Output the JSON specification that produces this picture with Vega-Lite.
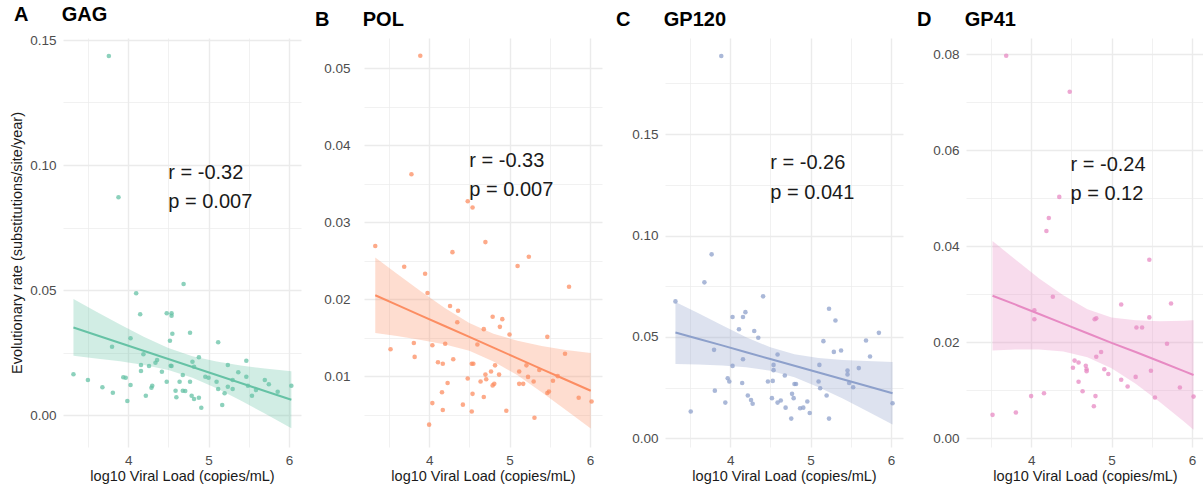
{
  "$schema": "https://vega.github.io/schema/vega-lite/v6.json",
  "padding": {"left": 9, "top": 5, "right": 0, "bottom": 2},
  "background": "white",
  "datasets": {
    "pts": [
      {"g":"A","vl":3.76,"rate":0.1436},{"g":"A","vl":3.88,"rate":0.0871},{"g":"A","vl":3.32,"rate":0.0163},{"g":"A","vl":3.50,"rate":0.014},{"g":"A","vl":3.68,"rate":0.0111},{"g":"A","vl":3.80,"rate":0.0273},{"g":"A","vl":3.81,"rate":0.0089},{"g":"A","vl":3.94,"rate":0.0151},{"g":"A","vl":3.97,"rate":0.0149},{"g":"A","vl":3.99,"rate":0.0056},{"g":"A","vl":4.03,"rate":0.012},{"g":"A","vl":4.03,"rate":0.0307},{"g":"A","vl":4.10,"rate":0.0487},{"g":"A","vl":4.15,"rate":0.0403},{"g":"A","vl":4.16,"rate":0.02},{"g":"A","vl":4.16,"rate":0.0176},{"g":"A","vl":4.19,"rate":0.0243},{"g":"A","vl":4.22,"rate":0.0077},{"g":"A","vl":4.26,"rate":0.0196},{"g":"A","vl":4.29,"rate":0.0109},{"g":"A","vl":4.30,"rate":0.0117},{"g":"A","vl":4.34,"rate":0.0209},{"g":"A","vl":4.36,"rate":0.022},{"g":"A","vl":4.42,"rate":0.0173},{"g":"A","vl":4.48,"rate":0.0407},{"g":"A","vl":4.48,"rate":0.0133},{"g":"A","vl":4.52,"rate":0.0297},{"g":"A","vl":4.53,"rate":0.0197},{"g":"A","vl":4.54,"rate":0.0196},{"g":"A","vl":4.54,"rate":0.0407},{"g":"A","vl":4.54,"rate":0.0397},{"g":"A","vl":4.55,"rate":0.0325},{"g":"A","vl":4.59,"rate":0.0097},{"g":"A","vl":4.60,"rate":0.0071},{"g":"A","vl":4.64,"rate":0.0133},{"g":"A","vl":4.68,"rate":0.016},{"g":"A","vl":4.68,"rate":0.0097},{"g":"A","vl":4.69,"rate":0.0524},{"g":"A","vl":4.71,"rate":0.0096},{"g":"A","vl":4.77,"rate":0.0133},{"g":"A","vl":4.77,"rate":0.0329},{"g":"A","vl":4.79,"rate":0.0077},{"g":"A","vl":4.80,"rate":0.0213},{"g":"A","vl":4.82,"rate":0.0064},{"g":"A","vl":4.82,"rate":0.0193},{"g":"A","vl":4.88,"rate":0.0231},{"g":"A","vl":4.88,"rate":0.0069},{"g":"A","vl":4.91,"rate":0.0029},{"g":"A","vl":4.96,"rate":0.0153},{"g":"A","vl":5.00,"rate":0.0149},{"g":"A","vl":5.10,"rate":0.0133},{"g":"A","vl":5.12,"rate":0.0291},{"g":"A","vl":5.12,"rate":0.0104},{"g":"A","vl":5.17,"rate":0.004},{"g":"A","vl":5.20,"rate":0.0087},{"g":"A","vl":5.24,"rate":0.0113},{"g":"A","vl":5.24,"rate":0.02},{"g":"A","vl":5.30,"rate":0.0104},{"g":"A","vl":5.30,"rate":0.014},{"g":"A","vl":5.37,"rate":0.0171},{"g":"A","vl":5.47,"rate":0.0217},{"g":"A","vl":5.47,"rate":0.0153},{"g":"A","vl":5.49,"rate":0.0117},{"g":"A","vl":5.54,"rate":0.0077},{"g":"A","vl":5.59,"rate":0.01},{"g":"A","vl":5.70,"rate":0.014},{"g":"A","vl":5.75,"rate":0.0123},{"g":"A","vl":5.86,"rate":0.0093},{"g":"A","vl":6.03,"rate":0.0117},
      {"g":"B","vl":3.89,"rate":0.0516},{"g":"B","vl":3.78,"rate":0.0362},{"g":"B","vl":3.33,"rate":0.0269},{"g":"B","vl":3.69,"rate":0.0242},{"g":"B","vl":3.95,"rate":0.0233},{"g":"B","vl":3.98,"rate":0.0208},{"g":"B","vl":3.52,"rate":0.0135},{"g":"B","vl":3.81,"rate":0.0143},{"g":"B","vl":3.82,"rate":0.0125},{"g":"B","vl":4.04,"rate":0.014},{"g":"B","vl":4.04,"rate":0.0065},{"g":"B","vl":4.00,"rate":0.0037},{"g":"B","vl":4.11,"rate":0.0118},{"g":"B","vl":4.17,"rate":0.0116},{"g":"B","vl":4.16,"rate":0.0079},{"g":"B","vl":4.17,"rate":0.0056},{"g":"B","vl":4.20,"rate":0.0142},{"g":"B","vl":4.23,"rate":0.0091},{"g":"B","vl":4.26,"rate":0.0191},{"g":"B","vl":4.29,"rate":0.0261},{"g":"B","vl":4.30,"rate":0.0122},{"g":"B","vl":4.35,"rate":0.017},{"g":"B","vl":4.36,"rate":0.0185},{"g":"B","vl":4.42,"rate":0.0063},{"g":"B","vl":4.48,"rate":0.0327},{"g":"B","vl":4.48,"rate":0.0097},{"g":"B","vl":4.53,"rate":0.0116},{"g":"B","vl":4.55,"rate":0.0116},{"g":"B","vl":4.54,"rate":0.0319},{"g":"B","vl":4.53,"rate":0.0054},{"g":"B","vl":4.54,"rate":0.0077},{"g":"B","vl":4.60,"rate":0.0141},{"g":"B","vl":4.64,"rate":0.0093},{"g":"B","vl":4.68,"rate":0.0161},{"g":"B","vl":4.68,"rate":0.0073},{"g":"B","vl":4.70,"rate":0.0102},{"g":"B","vl":4.70,"rate":0.0274},{"g":"B","vl":4.71,"rate":0.0096},{"g":"B","vl":4.77,"rate":0.0106},{"g":"B","vl":4.79,"rate":0.0177},{"g":"B","vl":4.79,"rate":0.0088},{"g":"B","vl":4.81,"rate":0.009},{"g":"B","vl":4.82,"rate":0.0114},{"g":"B","vl":4.87,"rate":0.0102},{"g":"B","vl":4.88,"rate":0.0164},{"g":"B","vl":4.91,"rate":0.0174},{"g":"B","vl":4.96,"rate":0.0055},{"g":"B","vl":5.00,"rate":0.0154},{"g":"B","vl":5.10,"rate":0.0243},{"g":"B","vl":5.12,"rate":0.0106},{"g":"B","vl":5.12,"rate":0.009},{"g":"B","vl":5.17,"rate":0.009},{"g":"B","vl":5.21,"rate":0.0114},{"g":"B","vl":5.24,"rate":0.0255},{"g":"B","vl":5.23,"rate":0.0099},{"g":"B","vl":5.30,"rate":0.0093},{"g":"B","vl":5.31,"rate":0.0046},{"g":"B","vl":5.37,"rate":0.0108},{"g":"B","vl":5.47,"rate":0.0151},{"g":"B","vl":5.47,"rate":0.0078},{"g":"B","vl":5.49,"rate":0.008},{"g":"B","vl":5.54,"rate":0.0094},{"g":"B","vl":5.60,"rate":0.01},{"g":"B","vl":5.69,"rate":0.0129},{"g":"B","vl":5.74,"rate":0.0216},{"g":"B","vl":5.86,"rate":0.0072},{"g":"B","vl":6.02,"rate":0.0067},
      {"g":"C","vl":3.89,"rate":0.1885},{"g":"C","vl":3.77,"rate":0.0907},{"g":"C","vl":3.68,"rate":0.0769},{"g":"C","vl":3.32,"rate":0.0675},{"g":"C","vl":3.51,"rate":0.0132},{"g":"C","vl":3.80,"rate":0.0436},{"g":"C","vl":3.81,"rate":0.0235},{"g":"C","vl":3.94,"rate":0.0176},{"g":"C","vl":3.97,"rate":0.0296},{"g":"C","vl":3.99,"rate":0.028},{"g":"C","vl":4.03,"rate":0.0598},{"g":"C","vl":4.03,"rate":0.0357},{"g":"C","vl":4.11,"rate":0.0538},{"g":"C","vl":4.16,"rate":0.0598},{"g":"C","vl":4.16,"rate":0.039},{"g":"C","vl":4.15,"rate":0.0273},{"g":"C","vl":4.19,"rate":0.0622},{"g":"C","vl":4.22,"rate":0.0211},{"g":"C","vl":4.26,"rate":0.0189},{"g":"C","vl":4.28,"rate":0.017},{"g":"C","vl":4.30,"rate":0.0529},{"g":"C","vl":4.35,"rate":0.0496},{"g":"C","vl":4.41,"rate":0.07},{"g":"C","vl":4.47,"rate":0.028},{"g":"C","vl":4.52,"rate":0.0198},{"g":"C","vl":4.53,"rate":0.0283},{"g":"C","vl":4.54,"rate":0.0362},{"g":"C","vl":4.54,"rate":0.0336},{"g":"C","vl":4.59,"rate":0.0413},{"g":"C","vl":4.59,"rate":0.0176},{"g":"C","vl":4.63,"rate":0.0186},{"g":"C","vl":4.68,"rate":0.031},{"g":"C","vl":4.69,"rate":0.0151},{"g":"C","vl":4.76,"rate":0.0097},{"g":"C","vl":4.77,"rate":0.0219},{"g":"C","vl":4.79,"rate":0.0198},{"g":"C","vl":4.80,"rate":0.0268},{"g":"C","vl":4.82,"rate":0.0268},{"g":"C","vl":4.87,"rate":0.0148},{"g":"C","vl":4.91,"rate":0.0151},{"g":"C","vl":4.96,"rate":0.0181},{"g":"C","vl":4.99,"rate":0.0125},{"g":"C","vl":5.10,"rate":0.028},{"g":"C","vl":5.11,"rate":0.0362},{"g":"C","vl":5.12,"rate":0.0247},{"g":"C","vl":5.16,"rate":0.0479},{"g":"C","vl":5.20,"rate":0.0211},{"g":"C","vl":5.23,"rate":0.0639},{"g":"C","vl":5.23,"rate":0.0097},{"g":"C","vl":5.29,"rate":0.0426},{"g":"C","vl":5.31,"rate":0.0581},{"g":"C","vl":5.38,"rate":0.0433},{"g":"C","vl":5.46,"rate":0.0334},{"g":"C","vl":5.46,"rate":0.0315},{"g":"C","vl":5.48,"rate":0.0273},{"g":"C","vl":5.53,"rate":0.0252},{"g":"C","vl":5.60,"rate":0.0346},{"g":"C","vl":5.69,"rate":0.0482},{"g":"C","vl":5.74,"rate":0.0403},{"g":"C","vl":5.85,"rate":0.052},{"g":"C","vl":6.02,"rate":0.0173},
      {"g":"D","vl":3.69,"rate":0.0797},{"g":"D","vl":4.48,"rate":0.0722},{"g":"D","vl":4.35,"rate":0.0503},{"g":"D","vl":4.22,"rate":0.0459},{"g":"D","vl":4.19,"rate":0.0432},{"g":"D","vl":4.27,"rate":0.0295},{"g":"D","vl":4.04,"rate":0.0267},{"g":"D","vl":4.04,"rate":0.0248},{"g":"D","vl":3.52,"rate":0.0049},{"g":"D","vl":3.81,"rate":0.0054},{"g":"D","vl":4.00,"rate":0.0088},{"g":"D","vl":4.16,"rate":0.0094},{"g":"D","vl":4.54,"rate":0.0162},{"g":"D","vl":4.52,"rate":0.0147},{"g":"D","vl":4.59,"rate":0.0158},{"g":"D","vl":4.59,"rate":0.0118},{"g":"D","vl":4.64,"rate":0.0098},{"g":"D","vl":4.68,"rate":0.0151},{"g":"D","vl":4.69,"rate":0.0144},{"g":"D","vl":4.69,"rate":0.014},{"g":"D","vl":4.78,"rate":0.0067},{"g":"D","vl":4.80,"rate":0.0088},{"g":"D","vl":4.79,"rate":0.0248},{"g":"D","vl":4.81,"rate":0.025},{"g":"D","vl":4.81,"rate":0.017},{"g":"D","vl":4.87,"rate":0.018},{"g":"D","vl":4.91,"rate":0.0144},{"g":"D","vl":4.96,"rate":0.0134},{"g":"D","vl":5.12,"rate":0.0279},{"g":"D","vl":5.12,"rate":0.0122},{"g":"D","vl":5.20,"rate":0.0108},{"g":"D","vl":5.30,"rate":0.0128},{"g":"D","vl":5.31,"rate":0.0231},{"g":"D","vl":5.38,"rate":0.0231},{"g":"D","vl":5.47,"rate":0.0372},{"g":"D","vl":5.47,"rate":0.0252},{"g":"D","vl":5.49,"rate":0.0141},{"g":"D","vl":5.54,"rate":0.0085},{"g":"D","vl":5.69,"rate":0.0197},{"g":"D","vl":5.74,"rate":0.0281},{"g":"D","vl":5.85,"rate":0.0106},{"g":"D","vl":6.02,"rate":0.0087}
    ],
    "fit": [
      {"g":"A","vl":3.32,"rate":0.0350,"lo":0.0237,"hi":0.0464},{"g":"A","vl":3.6,"rate":0.0320,"lo":0.0226,"hi":0.0414},{"g":"A","vl":3.9,"rate":0.0288,"lo":0.0215,"hi":0.0362},{"g":"A","vl":4.2,"rate":0.0256,"lo":0.0200,"hi":0.0312},{"g":"A","vl":4.5,"rate":0.0224,"lo":0.0180,"hi":0.0268},{"g":"A","vl":4.8,"rate":0.0192,"lo":0.0149,"hi":0.0235},{"g":"A","vl":5.1,"rate":0.0160,"lo":0.0107,"hi":0.0214},{"g":"A","vl":5.4,"rate":0.0128,"lo":0.0058,"hi":0.0198},{"g":"A","vl":5.7,"rate":0.0096,"lo":0.0006,"hi":0.0186},{"g":"A","vl":6.03,"rate":0.0061,"lo":-0.0053,"hi":0.0175},
      {"g":"B","vl":3.33,"rate":0.0205,"lo":0.0156,"hi":0.0254},{"g":"B","vl":3.6,"rate":0.01925,"lo":0.0152,"hi":0.0233},{"g":"B","vl":3.9,"rate":0.01786,"lo":0.0147,"hi":0.0210},{"g":"B","vl":4.2,"rate":0.01648,"lo":0.0141,"hi":0.0188},{"g":"B","vl":4.5,"rate":0.01509,"lo":0.0133,"hi":0.0169},{"g":"B","vl":4.8,"rate":0.0137,"lo":0.0119,"hi":0.0155},{"g":"B","vl":5.1,"rate":0.01231,"lo":0.0101,"hi":0.0146},{"g":"B","vl":5.4,"rate":0.01092,"lo":0.0079,"hi":0.0139},{"g":"B","vl":5.7,"rate":0.00953,"lo":0.0056,"hi":0.0134},{"g":"B","vl":6.01,"rate":0.0081,"lo":0.0032,"hi":0.0130},
      {"g":"C","vl":3.32,"rate":0.0522,"lo":0.0366,"hi":0.0672},{"g":"C","vl":3.6,"rate":0.0491,"lo":0.0364,"hi":0.0618},{"g":"C","vl":3.9,"rate":0.0458,"lo":0.0359,"hi":0.0557},{"g":"C","vl":4.2,"rate":0.0424,"lo":0.0350,"hi":0.0498},{"g":"C","vl":4.5,"rate":0.0391,"lo":0.0333,"hi":0.0449},{"g":"C","vl":4.8,"rate":0.0358,"lo":0.0301,"hi":0.0415},{"g":"C","vl":5.1,"rate":0.0324,"lo":0.0252,"hi":0.0396},{"g":"C","vl":5.4,"rate":0.0291,"lo":0.0196,"hi":0.0386},{"g":"C","vl":5.7,"rate":0.0258,"lo":0.0135,"hi":0.0381},{"g":"C","vl":6.02,"rate":0.0222,"lo":0.0068,"hi":0.0376},
      {"g":"D","vl":3.52,"rate":0.0297,"lo":0.0183,"hi":0.0411},{"g":"D","vl":3.8,"rate":0.0279,"lo":0.0185,"hi":0.0373},{"g":"D","vl":4.1,"rate":0.0259,"lo":0.0185,"hi":0.0333},{"g":"D","vl":4.4,"rate":0.0239,"lo":0.0181,"hi":0.0298},{"g":"D","vl":4.7,"rate":0.0219,"lo":0.0169,"hi":0.0269},{"g":"D","vl":5.0,"rate":0.0199,"lo":0.0146,"hi":0.0252},{"g":"D","vl":5.3,"rate":0.018,"lo":0.0114,"hi":0.0246},{"g":"D","vl":5.6,"rate":0.016,"lo":0.0076,"hi":0.0244},{"g":"D","vl":5.9,"rate":0.014,"lo":0.0035,"hi":0.0245},{"g":"D","vl":6.02,"rate":0.0132,"lo":0.0018,"hi":0.0246}
    ],
    "ann": [
      {"g":"A","vl":4.5,"rate":0.0968,"label":"r = -0.32"},{"g":"A","vl":4.5,"rate":0.0852,"label":"p = 0.007"},
      {"g":"B","vl":4.5,"rate":0.0379,"label":"r = -0.33"},{"g":"B","vl":4.5,"rate":0.0342,"label":"p = 0.007"},
      {"g":"C","vl":4.5,"rate":0.1356,"label":"r = -0.26"},{"g":"C","vl":4.5,"rate":0.1208,"label":"p = 0.041"},
      {"g":"D","vl":4.49,"rate":0.0569,"label":"r = -0.24"},{"g":"D","vl":4.49,"rate":0.0508,"label":"p = 0.12"}
    ]
  },
  "hconcat": [
    {
      "width": 238, "height": 409,
      "title": {"text": "A\u00a0\u00a0\u00a0\u00a0\u00a0\u00a0GAG", "dx": -49},
      "layer": [
        {"data": {"name": "pts"}, "transform": [{"filter": "datum.g === 'A'"}],
         "mark": {"type": "circle", "size": 21, "opacity": 0.75, "color": "#66c2a5"},
         "encoding": {
           "x": {"field": "vl", "type": "quantitative", "title": "log10 Viral Load (copies/mL)", "scale": {"domain": [3.19, 6.15], "nice": false, "zero": false},
                 "axis": {"values": [3.5, 4, 4.5, 5, 5.5, 6], "labelExpr": "datum.value % 1 < 0.01 ? format(datum.value, 'd') : ''", "gridWidth": {"condition": {"test": "datum.value % 1 > 0.01", "value": 0.7}, "value": 1.4}}},
           "y": {"field": "rate", "type": "quantitative", "title": "Evolutionary rate (substitutions/site/year)", "scale": {"domain": [-0.0128, 0.1508], "nice": false, "zero": false},
                 "axis": {"values": [0, 0.025, 0.05, 0.075, 0.1, 0.125, 0.15], "labelExpr": "abs(datum.value*20 - round(datum.value*20)) < 0.01 ? format(datum.value, '.2f') : ''", "gridWidth": {"condition": {"test": "abs(datum.value*20 - round(datum.value*20)) > 0.01", "value": 0.7}, "value": 1.4}, "titlePadding": 5}}
         }},
        {"data": {"name": "fit"}, "transform": [{"filter": "datum.g === 'A'"}],
         "mark": {"type": "area", "color": "#66c2a5", "opacity": 0.3},
         "encoding": {"x": {"field": "vl", "type": "quantitative", "title": "log10 Viral Load (copies/mL)"}, "y": {"field": "lo", "type": "quantitative", "title": "Evolutionary rate (substitutions/site/year)"}, "y2": {"field": "hi"}}},
        {"data": {"name": "fit"}, "transform": [{"filter": "datum.g === 'A'"}],
         "mark": {"type": "line", "color": "#66c2a5", "strokeWidth": 2},
         "encoding": {"x": {"field": "vl", "type": "quantitative", "title": "log10 Viral Load (copies/mL)"}, "y": {"field": "rate", "type": "quantitative", "title": "Evolutionary rate (substitutions/site/year)"}}},
        {"data": {"name": "ann"}, "transform": [{"filter": "datum.g === 'A'"}],
         "mark": {"type": "text", "align": "left", "baseline": "middle", "fontSize": 20, "color": "#1a1a1a", "font": "Liberation Sans"},
         "encoding": {"x": {"field": "vl", "type": "quantitative", "title": "log10 Viral Load (copies/mL)"}, "y": {"field": "rate", "type": "quantitative", "title": "Evolutionary rate (substitutions/site/year)"}, "text": {"field": "label"}}}
      ]
    },
    {
      "width": 238, "height": 409,
      "title": {"text": "B\u00a0\u00a0\u00a0\u00a0\u00a0\u00a0POL", "dx": -49},
      "layer": [
        {"data": {"name": "pts"}, "transform": [{"filter": "datum.g === 'B'"}],
         "mark": {"type": "circle", "size": 21, "opacity": 0.75, "color": "#fc8d62"},
         "encoding": {
           "x": {"field": "vl", "type": "quantitative", "title": "log10 Viral Load (copies/mL)", "scale": {"domain": [3.19, 6.15], "nice": false, "zero": false},
                 "axis": {"values": [3.5, 4, 4.5, 5, 5.5, 6], "labelExpr": "datum.value % 1 < 0.01 ? format(datum.value, 'd') : ''", "gridWidth": {"condition": {"test": "datum.value % 1 > 0.01", "value": 0.7}, "value": 1.4}}},
           "y": {"field": "rate", "type": "quantitative", "title": null, "scale": {"domain": [0.0008, 0.0539], "nice": false, "zero": false},
                 "axis": {"values": [0.005, 0.01, 0.015, 0.02, 0.025, 0.03, 0.035, 0.04, 0.045, 0.05], "labelPadding": 14, "labelExpr": "abs(datum.value*100 - round(datum.value*100)) < 0.01 ? format(datum.value, '.2f') : ''", "gridWidth": {"condition": {"test": "abs(datum.value*100 - round(datum.value*100)) > 0.01", "value": 0.7}, "value": 1.4}}}
         }},
        {"data": {"name": "fit"}, "transform": [{"filter": "datum.g === 'B'"}],
         "mark": {"type": "area", "color": "#fc8d62", "opacity": 0.3},
         "encoding": {"x": {"field": "vl", "type": "quantitative", "title": "log10 Viral Load (copies/mL)"}, "y": {"field": "lo", "type": "quantitative", "title": null}, "y2": {"field": "hi"}}},
        {"data": {"name": "fit"}, "transform": [{"filter": "datum.g === 'B'"}],
         "mark": {"type": "line", "color": "#fc8d62", "strokeWidth": 2},
         "encoding": {"x": {"field": "vl", "type": "quantitative", "title": "log10 Viral Load (copies/mL)"}, "y": {"field": "rate", "type": "quantitative", "title": null}}},
        {"data": {"name": "ann"}, "transform": [{"filter": "datum.g === 'B'"}],
         "mark": {"type": "text", "align": "left", "baseline": "middle", "fontSize": 20, "color": "#1a1a1a", "font": "Liberation Sans"},
         "encoding": {"x": {"field": "vl", "type": "quantitative", "title": "log10 Viral Load (copies/mL)"}, "y": {"field": "rate", "type": "quantitative", "title": null}, "text": {"field": "label"}}}
      ]
    },
    {
      "width": 238, "height": 409,
      "title": {"text": "C\u00a0\u00a0\u00a0\u00a0\u00a0\u00a0GP120", "dx": -49},
      "layer": [
        {"data": {"name": "pts"}, "transform": [{"filter": "datum.g === 'C'"}],
         "mark": {"type": "circle", "size": 21, "opacity": 0.75, "color": "#8da0cb"},
         "encoding": {
           "x": {"field": "vl", "type": "quantitative", "title": "log10 Viral Load (copies/mL)", "scale": {"domain": [3.19, 6.15], "nice": false, "zero": false},
                 "axis": {"values": [3.5, 4, 4.5, 5, 5.5, 6], "labelExpr": "datum.value % 1 < 0.01 ? format(datum.value, 'd') : ''", "gridWidth": {"condition": {"test": "datum.value % 1 > 0.01", "value": 0.7}, "value": 1.4}}},
           "y": {"field": "rate", "type": "quantitative", "title": null, "scale": {"domain": [-0.0043, 0.1974], "nice": false, "zero": false},
                 "axis": {"values": [0, 0.025, 0.05, 0.075, 0.1, 0.125, 0.15, 0.175], "labelExpr": "abs(datum.value*20 - round(datum.value*20)) < 0.01 ? format(datum.value, '.2f') : ''", "gridWidth": {"condition": {"test": "abs(datum.value*20 - round(datum.value*20)) > 0.01", "value": 0.7}, "value": 1.4}}}
         }},
        {"data": {"name": "fit"}, "transform": [{"filter": "datum.g === 'C'"}],
         "mark": {"type": "area", "color": "#8da0cb", "opacity": 0.3},
         "encoding": {"x": {"field": "vl", "type": "quantitative", "title": "log10 Viral Load (copies/mL)"}, "y": {"field": "lo", "type": "quantitative", "title": null}, "y2": {"field": "hi"}}},
        {"data": {"name": "fit"}, "transform": [{"filter": "datum.g === 'C'"}],
         "mark": {"type": "line", "color": "#8da0cb", "strokeWidth": 2},
         "encoding": {"x": {"field": "vl", "type": "quantitative", "title": "log10 Viral Load (copies/mL)"}, "y": {"field": "rate", "type": "quantitative", "title": null}}},
        {"data": {"name": "ann"}, "transform": [{"filter": "datum.g === 'C'"}],
         "mark": {"type": "text", "align": "left", "baseline": "middle", "fontSize": 20, "color": "#1a1a1a", "font": "Liberation Sans"},
         "encoding": {"x": {"field": "vl", "type": "quantitative", "title": "log10 Viral Load (copies/mL)"}, "y": {"field": "rate", "type": "quantitative", "title": null}, "text": {"field": "label"}}}
      ]
    },
    {
      "width": 238, "height": 409,
      "title": {"text": "D\u00a0\u00a0\u00a0\u00a0\u00a0\u00a0GP41", "dx": -49},
      "layer": [
        {"data": {"name": "pts"}, "transform": [{"filter": "datum.g === 'D'"}],
         "mark": {"type": "circle", "size": 21, "opacity": 0.75, "color": "#e78ac3"},
         "encoding": {
           "x": {"field": "vl", "type": "quantitative", "title": "log10 Viral Load (copies/mL)", "scale": {"domain": [3.19, 6.15], "nice": false, "zero": false},
                 "axis": {"values": [3.5, 4, 4.5, 5, 5.5, 6], "labelExpr": "datum.value % 1 < 0.01 ? format(datum.value, 'd') : ''", "gridWidth": {"condition": {"test": "datum.value % 1 > 0.01", "value": 0.7}, "value": 1.4}}},
           "y": {"field": "rate", "type": "quantitative", "title": null, "scale": {"domain": [-0.0018, 0.0834], "nice": false, "zero": false},
                 "axis": {"values": [0, 0.01, 0.02, 0.03, 0.04, 0.05, 0.06, 0.07, 0.08], "labelExpr": "abs(datum.value*50 - round(datum.value*50)) < 0.01 ? format(datum.value, '.2f') : ''", "gridWidth": {"condition": {"test": "abs(datum.value*50 - round(datum.value*50)) > 0.01", "value": 0.7}, "value": 1.4}}}
         }},
        {"data": {"name": "fit"}, "transform": [{"filter": "datum.g === 'D'"}],
         "mark": {"type": "area", "color": "#e78ac3", "opacity": 0.3},
         "encoding": {"x": {"field": "vl", "type": "quantitative", "title": "log10 Viral Load (copies/mL)"}, "y": {"field": "lo", "type": "quantitative", "title": null}, "y2": {"field": "hi"}}},
        {"data": {"name": "fit"}, "transform": [{"filter": "datum.g === 'D'"}],
         "mark": {"type": "line", "color": "#e78ac3", "strokeWidth": 2},
         "encoding": {"x": {"field": "vl", "type": "quantitative", "title": "log10 Viral Load (copies/mL)"}, "y": {"field": "rate", "type": "quantitative", "title": null}}},
        {"data": {"name": "ann"}, "transform": [{"filter": "datum.g === 'D'"}],
         "mark": {"type": "text", "align": "left", "baseline": "middle", "fontSize": 20, "color": "#1a1a1a", "font": "Liberation Sans"},
         "encoding": {"x": {"field": "vl", "type": "quantitative", "title": "log10 Viral Load (copies/mL)"}, "y": {"field": "rate", "type": "quantitative", "title": null}, "text": {"field": "label"}}}
      ]
    }
  ],
  "spacing": 63,
  "bounds": "flush",
  "config": {
    "font": "Liberation Sans",
    "view": {"stroke": null},
    "axis": {"domain": false, "ticks": false, "gridColor": "#ebebeb", "labelFont": "Liberation Sans", "labelFontSize": 13.5, "labelColor": "#4d4d4d", "labelPadding": 7, "titleFont": "Liberation Sans", "titleFontSize": 14.5, "titleFontWeight": "normal", "titleColor": "#1a1a1a"},
    "axisX": {"labelPadding": 6, "titlePadding": 3},
    "title": {"font": "Liberation Sans", "fontSize": 20, "fontWeight": "bold", "anchor": "start", "color": "#000000", "frame": "group", "offset": 8}
  }
}
